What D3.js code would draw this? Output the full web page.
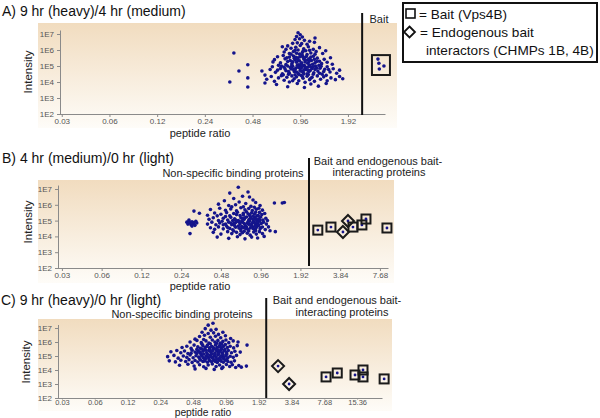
<!DOCTYPE html>
<html><head><meta charset="utf-8">
<script src="https://cdn.jsdelivr.net/npm/d3@7"></script>
<style>
html,body{margin:0;padding:0;background:#fff;}
svg{display:block;font-family:"Liberation Sans",Arial,Helvetica,sans-serif;}
</style></head>
<body>
<script>
// ---------------- DATA ----------------
const xTicksA = [0.03,0.06,0.12,0.24,0.48,0.96,1.92];
const xTicksB = [0.03,0.06,0.12,0.24,0.48,0.96,1.92,3.84,7.68];
const xTicksC = [0.03,0.06,0.12,0.24,0.48,0.96,1.92,3.84,7.68,15.36];
const yTicks = [1e2,1e3,1e4,1e5,1e6,1e7];

// Panel A: 9 hr (heavy)/4 hr (medium) — [peptide ratio, intensity]
const peptidesA = [
 [0.93,1.2e7],[0.96,9e6],[0.91,7e6],[0.99,6.5e6],
 [0.89,4.5e6],[0.95,5e6],[1.02,4e6],[1.10,3.5e6],[1.18,3e6],[0.92,2.8e6],[0.98,2.5e6],[1.06,2.3e6],[0.86,2.6e6],[1.19,5.6e6],
 [0.74,1.6e6],[0.78,1.1e6],[0.80,1.8e6],[0.84,1.3e6],[0.87,8e5],[0.90,1.5e6],[0.93,1.0e6],[0.96,1.9e6],[0.99,7e5],[1.01,1.2e6],
 [1.04,9e5],[1.08,1.6e6],[1.12,6.5e5],[1.16,1.1e6],[1.21,8e5],[1.27,1.4e6],[1.33,6e5],[1.39,9e5],[0.82,6e5],[0.95,5.5e5],[1.06,5.2e5],[0.76,7.5e5],
 [0.66,2.5e5],[0.69,3.8e5],[0.72,1.6e5],[0.75,4.5e5],[0.77,2.8e5],[0.80,1.9e5],[0.82,3.6e5],[0.85,1.4e5],[0.87,4.2e5],[0.89,2.4e5],
 [0.91,1.7e5],[0.93,3.2e5],[0.95,2.1e5],[0.97,1.3e5],[0.99,4.6e5],[1.01,2.7e5],[1.03,1.8e5],[1.05,3.9e5],[1.07,1.5e5],[1.10,2.9e5],
 [1.13,2.2e5],[1.16,4.1e5],[1.19,1.6e5],[1.23,3.1e5],[1.27,2.0e5],[1.31,1.4e5],[1.36,2.6e5],[1.42,1.7e5],[1.49,3.3e5],[1.53,1.3e5],
 [0.78,1.25e5],[0.88,3.0e5],[0.94,1.2e5],[1.00,3.6e5],[1.08,2.5e5],[1.15,1.3e5],
 [0.62,6e4],[0.64,9e4],[0.67,4e4],[0.70,1.1e5],[0.72,7e4],[0.74,3.2e4],[0.76,8.5e4],[0.78,5e4],[0.80,1.0e5],[0.82,3.5e4],
 [0.84,6.5e4],[0.86,9.5e4],[0.88,4.5e4],[0.90,7.5e4],[0.92,1.1e5],[0.94,3e4],[0.96,5.5e4],[0.98,8e4],[1.00,4e4],[1.02,1.05e5],
 [1.04,6e4],[1.06,3.3e4],[1.08,8.8e4],[1.11,5.2e4],[1.14,7e4],[1.17,3.8e4],[1.20,9.8e4],[1.24,4.8e4],[1.28,7.2e4],[1.32,3.1e4],
 [1.37,6.2e4],[1.42,9e4],[1.48,4.2e4],[1.55,6.8e4],[1.63,3.5e4],[1.70,5.5e4],[0.69,5.5e4],[0.83,8e4],[0.91,4.2e4],[0.97,9.2e4],
 [1.03,7.5e4],[1.09,4.5e4],[1.19,6e4],[1.26,1.1e5],[0.73,9.8e4],[0.87,6e4],[0.95,7.8e4],[1.01,5.5e4],[1.13,8.5e4],[1.35,4.5e4],
 [0.59,1.5e4],[0.63,2.2e4],[0.66,1.1e4],[0.70,1.8e4],[0.73,2.5e4],[0.76,1.3e4],[0.79,2.0e4],[0.82,1.0e4],[0.85,2.4e4],[0.88,1.6e4],
 [0.91,2.1e4],[0.94,1.2e4],[0.97,2.6e4],[1.00,1.7e4],[1.03,9.5e3],[1.06,2.3e4],[1.10,1.4e4],[1.14,2.0e4],[1.18,1.1e4],[1.23,2.4e4],
 [1.29,1.5e4],[1.35,2.1e4],[1.42,1.2e4],[1.50,1.8e4],[1.60,1.4e4],[1.70,2.2e4],[1.78,1.6e4],[0.86,1.2e4],[0.99,2.2e4],[1.12,1.7e4],
 [0.68,7e3],[0.80,5e3],[0.92,8e3],[1.02,4.5e3],[1.12,7.5e3],[1.25,5.5e3],[1.40,8e3],
 [0.79,3.2e5],[0.83,2.2e5],[0.86,1.8e5],[0.90,3.5e5],[0.92,2.6e5],[0.96,3.8e5],[0.98,1.6e5],[1.02,3.3e5],[1.04,2.3e5],[1.09,1.9e5],
 [1.12,3.6e5],[1.18,2.6e5],[1.22,1.9e5],[0.77,6.5e4],[0.81,4.5e4],[0.85,1.1e5],[0.89,6e4],[0.93,8.5e4],[0.97,4.8e4],[0.99,1.15e5],
 [1.05,8e4],[1.07,5.5e4],[1.10,1.15e5],[1.16,9e4],[1.22,7.5e4],[1.30,9.5e4],[1.45,6e4],[0.75,2.8e4],[0.81,3e4],[0.89,2.8e4],
 [0.93,3.6e4],[1.01,3.2e4],[1.08,2.9e4],[1.16,3.1e4],[1.27,3.5e4],[1.40,2.6e4],[0.84,5.5e5],[0.89,9.5e5],[1.00,8.5e5],[1.10,9.5e5],
 [0.91,6.2e5],[1.19,5.5e5],
 [0.345,1e4],[0.366,6.5e5],[0.394,4.9e4],[0.448,1.2e5],[0.448,1.8e4],[0.448,4.9e3],[0.55,4.9e4],[0.575,2.7e4],[0.575,8.7e3],[0.646,1.8e5]
];
const baitA = [[2.97,2.7e5],[3.01,1.5e5],[3.03,6.5e4],[3.24,1.0e5]];

// Panel B: 4 hr (medium)/0 hr (light)
const peptidesB = [
 [0.65,1.3e7],[0.77,6.4e6],[0.56,5.5e6],[0.79,3.1e6],[0.60,2.5e6],[0.70,3.5e6],[0.84,2.0e6],[0.51,1.8e6],[0.66,1.5e6],[0.74,1.2e6],
 [0.88,1.4e6],[0.55,9e5],[0.62,1.0e6],[0.81,8e5],[0.95,9e5],[0.46,1.1e6],[0.71,7.5e5],[0.58,7.5e5],[0.86,7e5],
 [1.22,1.3e6],[1.40,1.3e6],[1.45,1.4e6],[1.13,2.3e4],[1.24,2.0e4],
 [0.265,8e4],[0.27,6e4],[0.275,9e4],[0.28,7e4],[0.285,5.5e4],[0.29,8.5e4],[0.295,6.5e4],[0.30,7.5e4],[0.305,5e4],[0.31,9e4],
 [0.315,7e4],[0.275,1.1e5],[0.29,4.5e4],[0.28,1.5e4],[0.30,4e5],[0.33,2.9e5],
 [0.40,5e5],[0.47,6e5],[0.52,4.5e5],[0.57,5.5e5],[0.63,4.2e5],[0.68,6.5e5],[0.73,4.8e5],[0.78,5.8e5],[0.83,4.4e5],[0.89,5.2e5],[0.93,6e5],[0.99,4.6e5],
 [0.38,2.2e5],[0.43,3e5],[0.48,2.5e5],[0.53,3.2e5],[0.56,2e5],[0.60,2.8e5],[0.64,3.4e5],[0.67,2.1e5],[0.71,2.9e5],[0.75,3.6e5],
 [0.79,2.3e5],[0.82,3.1e5],[0.86,2.6e5],[0.90,2e5],[0.94,3.3e5],[0.98,2.4e5],[1.03,2.8e5],[0.45,2e5],
 [0.39,1.2e5],[0.42,1.5e5],[0.46,1.0e5],[0.50,1.4e5],[0.54,1.1e5],[0.57,1.6e5],[0.61,1.3e5],[0.65,1.0e5],[0.68,1.5e5],[0.72,1.2e5],
 [0.75,1.7e5],[0.78,1.05e5],[0.81,1.4e5],[0.84,1.15e5],[0.87,1.6e5],[0.90,1.0e5],[0.93,1.3e5],[0.96,1.7e5],[1.00,1.1e5],[1.05,1.4e5],
 [0.59,1.0e5],[0.70,1.35e5],[0.80,1.8e5],[1.08,1.0e5],
 [0.38,6e4],[0.41,8e4],[0.44,5.5e4],[0.47,7e4],[0.49,9e4],[0.52,6e4],[0.55,8e4],[0.58,5.5e4],[0.62,7.5e4],[0.64,9e4],
 [0.67,6e4],[0.70,8e4],[0.73,5.5e4],[0.76,7e4],[0.79,9e4],[0.82,6e4],[0.85,8.5e4],[0.88,5.5e4],[0.91,7e4],[0.94,9e4],
 [0.97,6.5e4],[1.01,8e4],[1.06,6e4],[0.60,6.5e4],[0.69,9.5e4],[0.78,5.8e4],[0.86,7.2e4],[1.10,4e4],
 [0.40,3.5e4],[0.43,2.8e4],[0.46,4e4],[0.50,3e4],[0.53,4.5e4],[0.56,3.2e4],[0.59,2.6e4],[0.62,3.8e4],[0.65,4.6e4],[0.68,2.9e4],
 [0.71,3.6e4],[0.74,4.4e4],[0.77,2.7e4],[0.80,3.4e4],[0.83,4.2e4],[0.86,2.8e4],[0.89,3.7e4],[0.92,4.8e4],[0.95,3.0e4],[0.99,3.9e4],
 [1.04,2.7e4],[0.66,3.3e4],[0.75,3.9e4],[0.84,3.2e4],
 [0.42,1.8e4],[0.48,1.4e4],[0.54,2.0e4],[0.58,1.5e4],[0.63,1.8e4],[0.67,1.3e4],[0.72,2.1e4],[0.76,1.6e4],[0.80,1.2e4],[0.85,1.9e4],
 [0.89,1.4e4],[0.94,2.0e4],[0.99,1.5e4],[0.70,1.7e4],
 [0.45,9e3],[0.55,7.5e3],[0.64,9.5e3],[0.73,7e3],[0.82,9e3],[0.91,8e3],[1.02,1.0e4],
 [0.50,5.5e4],[0.54,3.6e4],[0.57,7e4],[0.61,4.8e4],[0.66,8e4],[0.69,4.2e4],[0.72,6.5e4],[0.74,3.1e4],[0.77,8.2e4],[0.81,4.6e4],
 [0.83,7.2e4],[0.87,4.4e4],[0.90,8.5e4],[0.93,5.2e4],[0.96,3.5e4],[0.71,2.3e5],[0.77,2.7e5],[0.84,1.9e5],[0.88,3.4e5],[0.92,2.1e5],
 [0.63,2.4e5],[0.73,1.5e5],[0.86,1.25e5],[0.95,1.1e5],[0.52,1.8e5],[0.62,1.1e5],[0.79,1.2e5],[0.89,1.2e5],[0.68,2.2e4],[0.78,2.2e4],
 [0.88,2.4e4],[0.60,2.2e4]
];
const baitB = [[2.60,2.5e4],[3.27,3.9e4],[4.80,3.9e4],[5.61,5.3e4],[6.02,1.26e5],[8.68,3.4e4]];
const endoB = [[4.40,9.4e4],[4.03,1.9e4]];

// Panel C: 9 hr (heavy)/0 hr (light)
const peptidesC = [
 [0.66,1.6e7],[0.73,2.2e7],[0.62,9e6],[0.70,7e6],[0.78,8e6],[0.58,5e6],[0.66,4e6],[0.74,4.5e6],[0.82,3.5e6],[0.90,5e6],
 [0.55,2.5e6],[0.61,3e6],[0.69,2.2e6],[0.77,2.6e6],[0.86,2e6],[0.95,2.8e6],[0.50,1.6e6],[1.06,1.8e6],[1.24,1e6],[1.50,6e5],
 [0.45,1.0e6],[0.52,1.3e6],[0.57,9e5],[0.63,1.2e6],[0.67,8.5e5],[0.72,1.4e6],[0.76,1.0e6],[0.81,1.3e6],[0.85,8.5e5],[0.90,1.1e6],
 [0.96,1.4e6],[1.02,9e5],[1.12,1.2e6],[0.60,1.5e6],
 [0.38,4e5],[0.42,5e5],[0.46,3.5e5],[0.49,6e5],[0.53,4.5e5],[0.56,3.5e5],[0.59,5.5e5],[0.62,4e5],[0.65,6e5],[0.68,3.8e5],
 [0.71,5e5],[0.74,3.6e5],[0.77,6.2e5],[0.80,4.2e5],[0.84,5.5e5],[0.87,3.7e5],[0.91,4.8e5],[0.95,6.5e5],[0.99,4e5],[1.05,5e5],
 [1.13,3.8e5],[1.22,5.5e5],[0.64,4.8e5],[0.73,4.2e5],[0.85,4.5e5],
 [0.30,2e5],[0.34,2.5e5],[0.37,1.7e5],[0.40,2.3e5],[0.43,1.5e5],[0.47,2.6e5],[0.50,1.9e5],[0.53,2.4e5],[0.56,1.6e5],[0.59,2.2e5],
 [0.61,2.8e5],[0.64,1.7e5],[0.67,2.5e5],[0.70,1.9e5],[0.73,2.7e5],[0.76,1.6e5],[0.79,2.3e5],[0.82,1.8e5],[0.86,2.6e5],[0.89,1.7e5],
 [0.93,2.4e5],[0.97,1.8e5],[1.01,2.5e5],[1.08,1.7e5],[1.16,2.2e5],[1.30,1.9e5],[0.55,2e5],[0.69,2.2e5],[0.84,2.1e5],
 [0.28,9e4],[0.32,1.1e5],[0.35,7e4],[0.39,1.0e5],[0.42,8e4],[0.45,1.2e5],[0.48,7.5e4],[0.51,1.05e5],[0.54,8.5e4],[0.57,1.2e5],
 [0.60,7e4],[0.63,1.0e5],[0.66,8e4],[0.69,1.15e5],[0.72,7.5e4],[0.75,1.0e5],[0.78,8.5e4],[0.81,1.2e5],[0.84,7e4],[0.88,1.0e5],
 [0.92,8e4],[0.96,1.1e5],[1.00,7.5e4],[1.05,9.5e4],[1.12,8e4],[1.20,1.1e5],[0.58,9.5e4],[0.70,9e4],[0.86,9e4],
 [0.29,4.5e4],[0.33,3.8e4],[0.37,5e4],[0.41,4e4],[0.44,5.5e4],[0.47,3.5e4],[0.50,4.8e4],[0.53,3.7e4],[0.56,5.2e4],[0.59,4e4],
 [0.62,5.5e4],[0.65,3.6e4],[0.68,4.8e4],[0.71,3.9e4],[0.74,5.3e4],[0.77,4.1e4],[0.80,3.5e4],[0.83,5e4],[0.87,4.2e4],[0.91,3.6e4],
 [0.95,5e4],[1.00,4e4],[1.07,3.6e4],[1.15,4.5e4],[0.61,4.4e4],[0.76,4.6e4],
 [0.36,2.2e4],[0.43,2.6e4],[0.49,1.9e4],[0.55,2.4e4],[0.60,1.7e4],[0.66,2.3e4],[0.72,2.7e4],[0.78,1.8e4],[0.84,2.3e4],[0.90,1.6e4],
 [0.97,2.5e4],[1.04,1.8e4],[1.10,2.4e4],[1.18,1.5e4],[1.26,2.1e4],[1.48,1.9e4],[1.33,1.6e4],
 [0.50,1.2e4],[0.63,1.3e4],[0.75,1.1e4],[0.88,1.3e4],
 [0.52,3e5],[0.58,3.2e5],[0.63,2.6e5],[0.68,3e5],[0.72,2.3e5],[0.77,3.1e5],[0.81,2.8e5],[0.88,3.2e5],[0.94,2.9e5],[0.60,1.4e5],
 [0.65,1.3e5],[0.71,1.4e5],[0.76,1.3e5],[0.83,1.4e5],[0.90,1.3e5],[0.98,1.4e5],[0.55,6.5e4],[0.62,7e4],[0.67,6.2e4],[0.73,6.5e4],
 [0.79,6.2e4],[0.85,5.8e4],[0.91,6.5e4],[0.98,6e4],[0.52,1.5e5],[0.46,1.6e5],[0.69,7.5e5],[0.79,8e5],[0.88,7e5],[0.58,7e5]
];
const baitC = [[7.97,3.2e3],[10.1,6.1e3],[14.7,4.4e3],[17.4,1.0e4],[17.4,3.2e3],[27.2,2.3e3]];
const endoC = [[2.89,1.9e4],[3.65,1.0e3]];

// ---------------- LAYOUT ----------------
const panels = [
 {title:"A) 9 hr (heavy)/4 hr (medium)", tx:2, ty:16,
  bg:[38,23,359,105], xDomain:[0.028,3.29], xRange:[57,385], y0:114, perDecade:16,
  pts:peptidesA, bait:[], endo:[], baitBox:baitA, xTicks:xTicksA, tk:3, tp:1.5, tf:8, xlf:11,
  cut:2.36, divY:[13,115], xl:[200,137], yl:[32,72],
  headers:[{t:"Bait",x:379,y:23}]},
 {title:"B) 4 hr (medium)/0 hr (light)", tx:2, ty:163,
  bg:[38,180,356,103], xDomain:[0.0266,8.84], xRange:[55,388], y0:268, perDecade:15.8,
  pts:peptidesB, bait:baitB, endo:endoB, baitBox:null, xTicks:xTicksB, tk:3, tp:1.5, tf:8, xlf:11,
  cut:2.23, divY:[158,266], xl:[200,290], yl:[32,222],
  headers:[{t:"Non-specific binding proteins",x:233,y:177},
           {t:"Bait and endogenous bait-",x:378,y:165},
           {t:"interacting proteins",x:379,y:176}]},
 {title:"C) 9 hr (heavy)/0 hr (light)", tx:1, ty:305,
  bg:[38,319,354,92], xDomain:[0.0259,26.0], xRange:[55,382], y0:398, perDecade:14,
  pts:peptidesC, bait:baitC, endo:endoC, baitBox:null, xTicks:xTicksC, tk:1.5, tp:0, tf:7.5, xlf:10.3,
  cut:2.25, divY:[298,398], xl:[203,415.7], yl:[30,362],
  headers:[{t:"Non-specific binding proteins",x:182,y:318},
           {t:"Bait and endogenous bait-",x:337,y:304},
           {t:"interacting proteins",x:342,y:316}]}
];

const svg = d3.select("body").append("svg").attr("width",600).attr("height",418);
const defs = svg.append("defs");
const grad = defs.append("linearGradient").attr("id","bgGrad")
  .attr("x1",0).attr("y1",0).attr("x2",0).attr("y2",1);
grad.append("stop").attr("offset","0%").attr("stop-color","#f1dcbf");
grad.append("stop").attr("offset","100%").attr("stop-color","#fefcf8");

const DOT = "#14148c";

function styleAxis(sel, fs){
  sel.select(".domain").attr("stroke","#8a8a8a");
  sel.selectAll(".tick line").attr("stroke","#8a8a8a");
  sel.selectAll(".tick text").attr("fill","#555")
    .style("font-family","'Liberation Sans Narrow','Arial Narrow','Liberation Sans',sans-serif")
    .style("font-size",(fs||8)+"px");
}

panels.forEach(p => {
  const g = svg.append("g");
  g.append("rect").attr("x",p.bg[0]).attr("y",p.bg[1]).attr("width",p.bg[2]).attr("height",p.bg[3])
    .attr("fill","url(#bgGrad)");

  const x = d3.scaleLog().base(2).domain(p.xDomain).range(p.xRange);
  const yTopVal = Math.pow(10,7.25);
  const y = d3.scaleLog().domain([1e2,yTopVal]).range([p.y0, p.y0 - 5.25*p.perDecade]);

  g.append("g").attr("transform",`translate(0,${p.y0})`)
    .call(d3.axisBottom(x).tickValues(p.xTicks).tickFormat(d=>String(d)).tickSize(p.tk).tickPadding(p.tp).tickSizeOuter(0))
    .call(styleAxis, p.tf);
  g.append("g").attr("transform",`translate(${p.xRange[0]+3},0)`)
    .call(d3.axisLeft(y).tickValues(yTicks).tickFormat(d=>"1E"+Math.round(Math.log10(d))).tickSize(3).tickSizeOuter(0))
    .call(styleAxis, 8);

  // scatter
  g.append("g").selectAll("circle").data(p.pts).join("circle")
    .attr("cx",d=>x(d[0])).attr("cy",d=>y(d[1])).attr("r",1.8).attr("fill",DOT);

  // bait box (panel A)
  if (p.baitBox){
    g.append("g").selectAll("circle").data(p.baitBox).join("circle")
      .attr("cx",d=>x(d[0])).attr("cy",d=>y(d[1])).attr("r",1.8).attr("fill",DOT);
    const xs = p.baitBox.map(d=>x(d[0])), ys = p.baitBox.map(d=>y(d[1]));
    const x0 = d3.min(xs)-6, x1 = d3.max(xs)+6, y0 = d3.min(ys)-4, y1 = d3.max(ys)+6;
    g.append("rect").attr("x",x0).attr("y",y0).attr("width",x1-x0).attr("height",y1-y0)
      .attr("fill","none").attr("stroke","#1a1a1a").attr("stroke-width",2);
  }
  // endogenous interactors: diamonds
  const dg = g.append("g").selectAll("g").data(p.endo).join("g")
    .attr("transform",d=>`translate(${x(d[0])},${y(d[1])})`);
  dg.append("path").attr("d","M0,-6L6,0L0,6L-6,0Z").attr("fill","none").attr("stroke","#1a1a1a").attr("stroke-width",2);
  dg.append("circle").attr("r",1.4).attr("fill",DOT);
  // bait: squares
  const sg = g.append("g").selectAll("g").data(p.bait).join("g")
    .attr("transform",d=>`translate(${x(d[0])},${y(d[1])})`);
  sg.append("rect").attr("x",-4.5).attr("y",-4.5).attr("width",9).attr("height",9)
    .attr("fill","none").attr("stroke","#1a1a1a").attr("stroke-width",2);
  sg.append("circle").attr("r",1.4).attr("fill",DOT);

  // divider
  g.append("line").attr("x1",x(p.cut)).attr("x2",x(p.cut)).attr("y1",p.divY[0]).attr("y2",p.divY[1])
    .attr("stroke","#111").attr("stroke-width",2);

  // texts
  svg.append("text").attr("x",p.tx).attr("y",p.ty).attr("font-size",14).attr("fill","#111").text(p.title);
  svg.append("text").attr("x",p.xl[0]).attr("y",p.xl[1]).attr("font-size",p.xlf).attr("text-anchor","middle")
    .attr("fill","#222").text("peptide ratio");
  svg.append("text").attr("transform",`translate(${p.yl[0]},${p.yl[1]}) rotate(-90)`).attr("font-size",11.5)
    .attr("text-anchor","middle").attr("fill","#222").text("Intensity");
  p.headers.forEach(h => {
    svg.append("text").attr("x",h.x).attr("y",h.y).attr("font-size",11).attr("text-anchor","middle")
      .attr("fill","#222").text(h.t);
  });
});

// legend
const lg = svg.append("g");
lg.append("rect").attr("x",403).attr("y",3).attr("width",194).attr("height",59)
  .attr("fill","#fff").attr("stroke","#111").attr("stroke-width",2);
lg.append("rect").attr("x",406).attr("y",9).attr("width",9).attr("height",9)
  .attr("fill","none").attr("stroke","#111").attr("stroke-width",1.6);
lg.append("text").attr("x",419).attr("y",18.5).attr("font-size",13.6).attr("fill","#111").text("= Bait (Vps4B)");
lg.append("path").attr("d","M409.5,26.5L415,32L409.5,37.5L404,32Z")
  .attr("fill","none").attr("stroke","#111").attr("stroke-width",1.8);
lg.append("text").attr("x",420).attr("y",37).attr("font-size",13.6).attr("fill","#111").text("= Endogenous bait");
lg.append("text").attr("x",426).attr("y",55).attr("font-size",13.6).attr("fill","#111").text("interactors (CHMPs 1B, 4B)");
</script>
</body></html>
